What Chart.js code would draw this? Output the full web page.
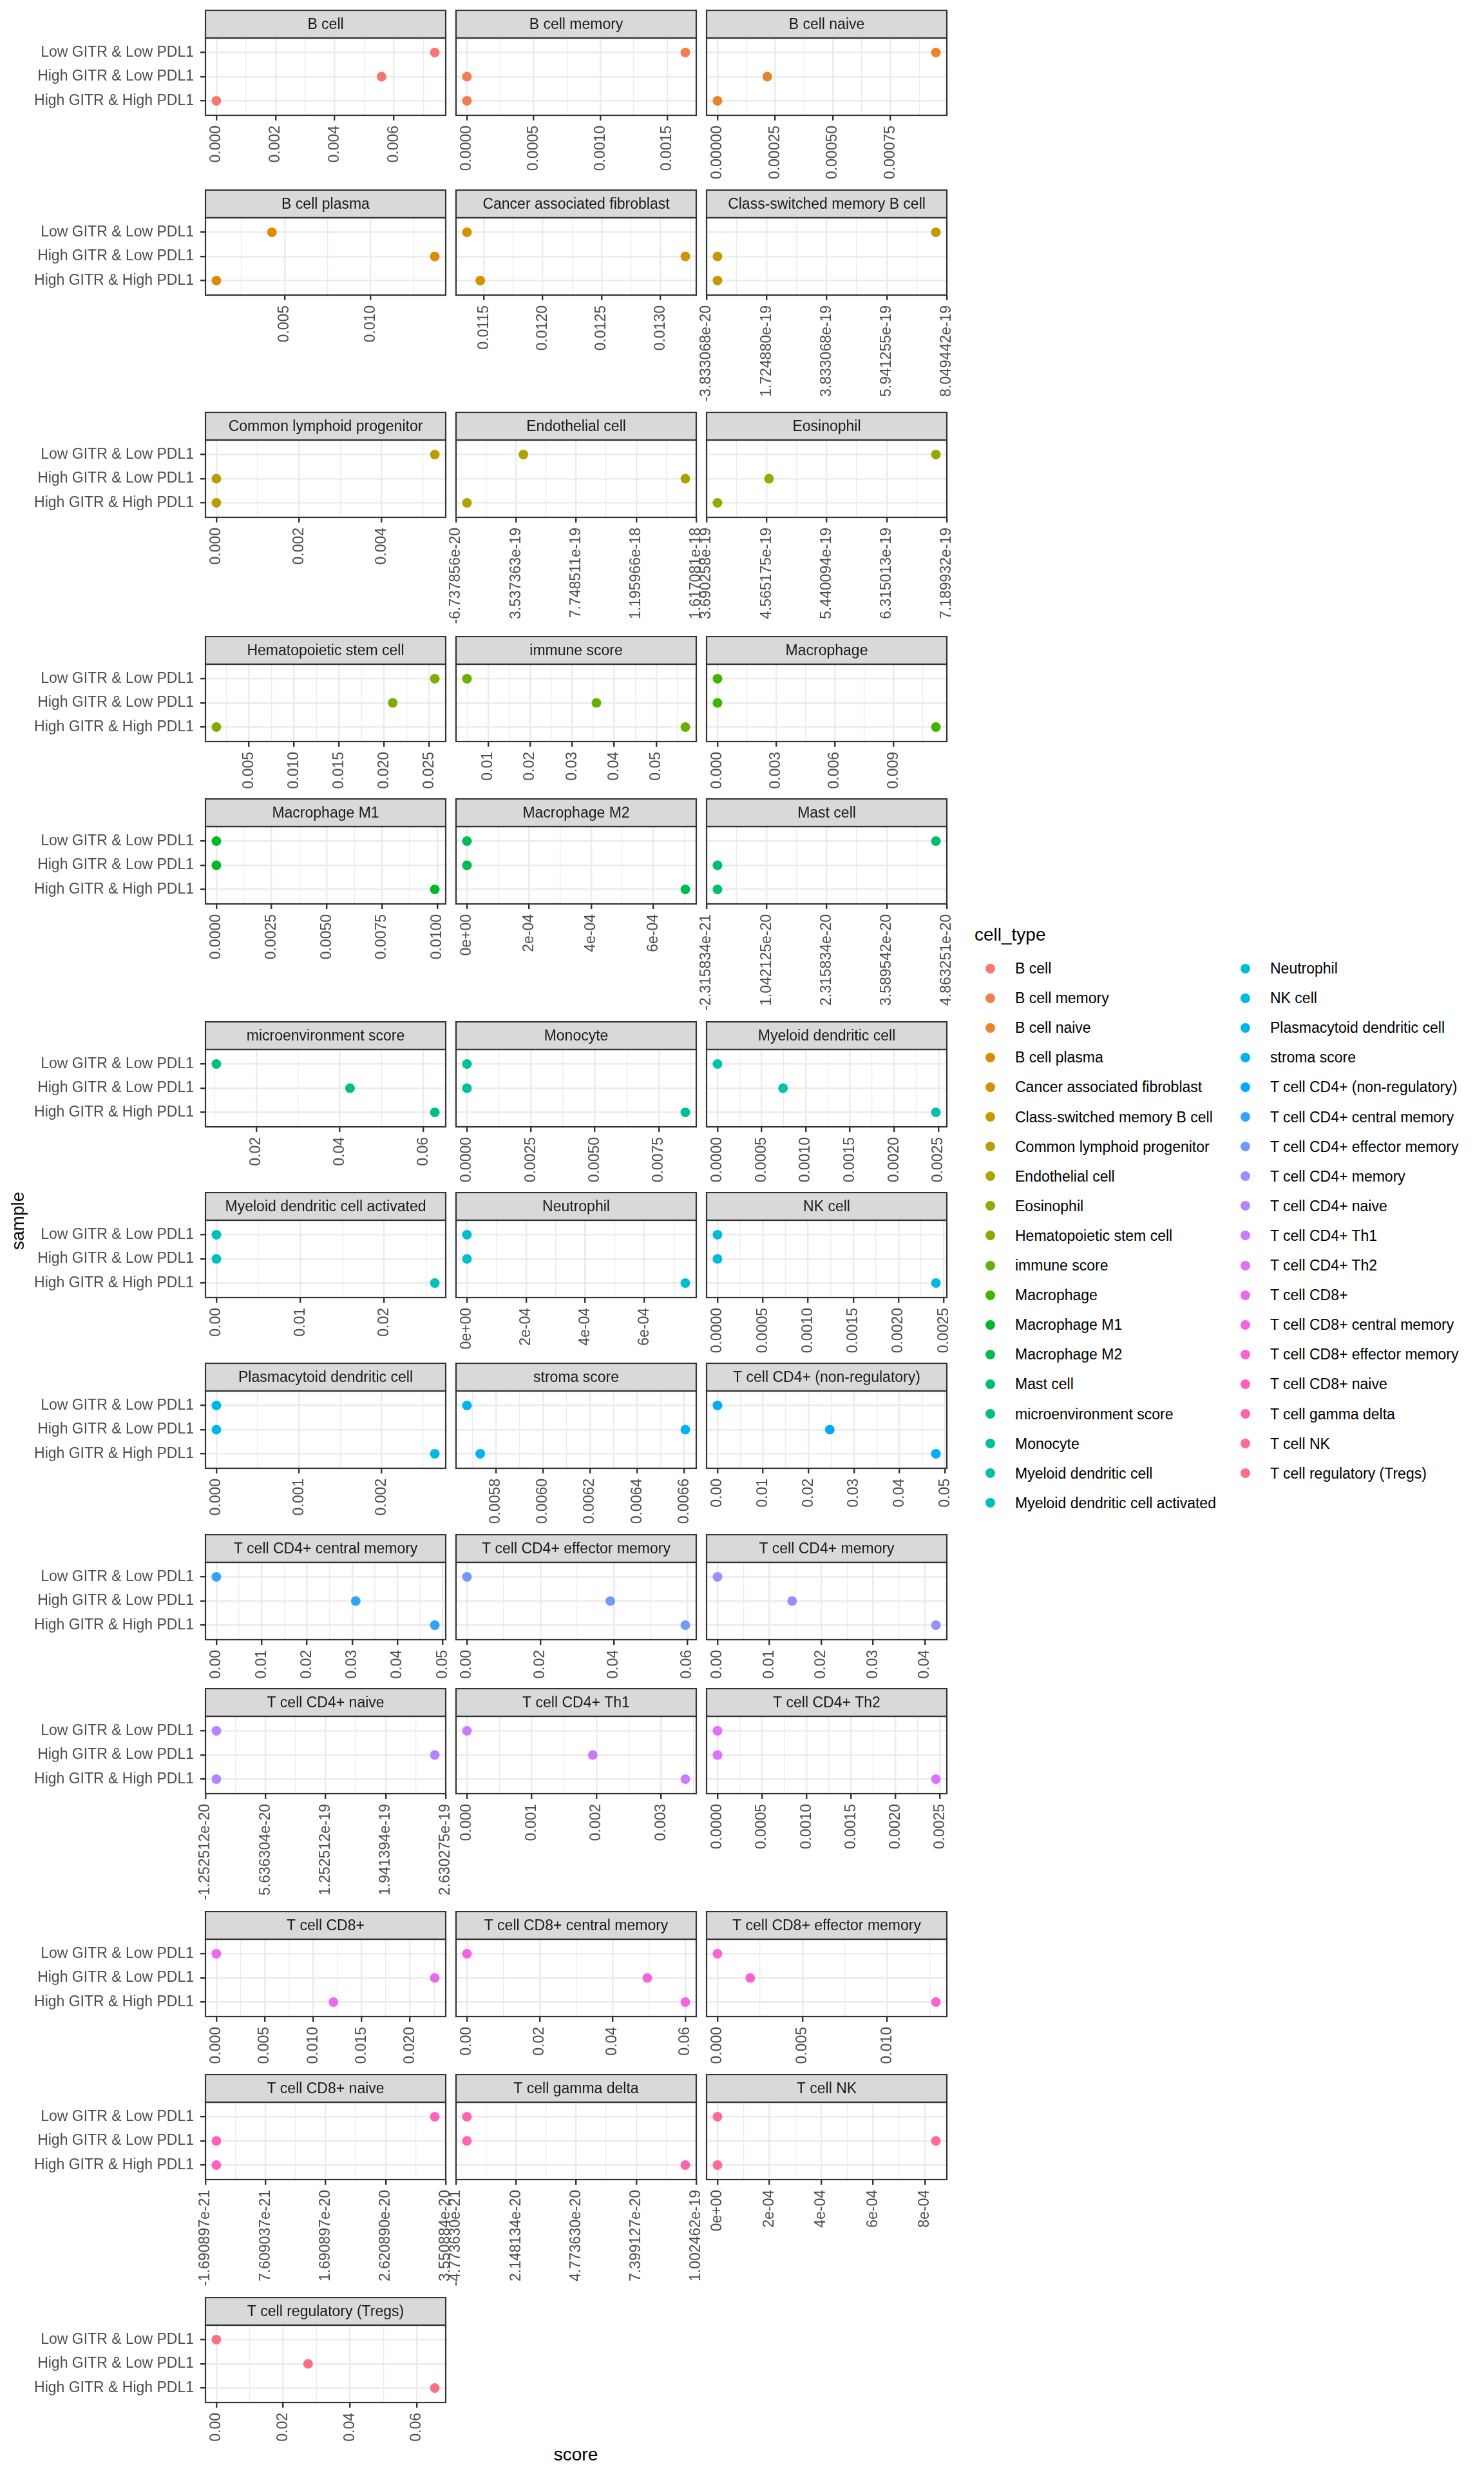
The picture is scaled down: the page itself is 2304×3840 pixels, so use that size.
<!DOCTYPE html>
<html><head><meta charset="utf-8">
<script src="https://cdn.jsdelivr.net/npm/chart.js@4.4.1/dist/chart.umd.min.js"></script>
<style>
html,body{margin:0;padding:0;background:#fff;}
body{width:2304px;height:3840px;position:relative;overflow:hidden;font-family:'Liberation Sans',Arial,sans-serif;}
canvas{position:absolute;}
.t{position:absolute;white-space:nowrap;color:#000;}
.dot{position:absolute;width:15px;height:15px;border-radius:50%;}
</style></head><body>
<script>
// ---------------- DATA ----------------
const cellTypes = ["B cell","B cell memory","B cell naive","B cell plasma","Cancer associated fibroblast","Class-switched memory B cell","Common lymphoid progenitor","Endothelial cell","Eosinophil","Hematopoietic stem cell","immune score","Macrophage","Macrophage M1","Macrophage M2","Mast cell","microenvironment score","Monocyte","Myeloid dendritic cell","Myeloid dendritic cell activated","Neutrophil","NK cell","Plasmacytoid dendritic cell","stroma score","T cell CD4+ (non-regulatory)","T cell CD4+ central memory","T cell CD4+ effector memory","T cell CD4+ memory","T cell CD4+ naive","T cell CD4+ Th1","T cell CD4+ Th2","T cell CD8+","T cell CD8+ central memory","T cell CD8+ effector memory","T cell CD8+ naive","T cell gamma delta","T cell NK","T cell regulatory (Tregs)"];

// y positions 1..3 from bottom to top
const samples = ["High GITR & High PDL1","High GITR & Low PDL1","Low GITR & Low PDL1"];

const scoreLowLow = [0.00739, 0.001636, 0.000947, 0.00427, 0.011356, 7.666137e-19, 0.005285, 4.05e-19, 7.030856e-19, 0.0256, 0.00496, 0, 0, 0, 4.631667e-20, 0.01047, 0, 0, 0, 0, 0, 0, 0.0056765, 0, 0, 0, 0, 0, 0, 0, 0, 0, 0, 3.381794e-20, 0, 0, 0];
const scoreHighLow = [0.00559, 0, 0.000216, 0.01371, 0.013211, 0, 0, 1.540515e-18, 4.60e-19, 0.020936, 0.03576, 0, 0, 0, 0, 0.04245, 0, 0.000742, 0, 0, 0, 0, 0.006605, 0.02467, 0.0308, 0.03908, 0.01439, 2.505024e-19, 0.001944, 0, 0.022555, 0.04954, 0.001929, 0, 0, 0.000842, 0.02746];
const scoreHighHigh = [0, 0, 0, 0.00105, 0.011469, 0, 0, 9.19e-21, 3.849334e-19, 0.001388, 0.05691, 0.011169, 0.009891, 0.000703, 0, 0.06274, 0.008538, 0.002473, 0.026043, 0.000739, 0.002413, 0.002642, 0.005733, 0.048, 0.04827, 0.05952, 0.04211, 0, 0.003374, 0.002452, 0.012087, 0.06, 0.012857, 0, 9.54726e-20, 0, 0.0654];

const xTickLabels = [
  ["0.000","0.002","0.004","0.006"],
  ["0.0000","0.0005","0.0010","0.0015"],
  ["0.00000","0.00025","0.00050","0.00075"],
  ["0.005","0.010"],
  ["0.0115","0.0120","0.0125","0.0130"],
  ["-3.833068e-20","1.724880e-19","3.833068e-19","5.941255e-19","8.049442e-19"],
  ["0.000","0.002","0.004"],
  ["-6.737856e-20","3.537363e-19","7.748511e-19","1.195966e-18","1.617081e-18"],
  ["3.690258e-19","4.565175e-19","5.440094e-19","6.315013e-19","7.189932e-19"],
  ["0.005","0.010","0.015","0.020","0.025"],
  ["0.01","0.02","0.03","0.04","0.05"],
  ["0.000","0.003","0.006","0.009"],
  ["0.0000","0.0025","0.0050","0.0075","0.0100"],
  ["0e+00","2e-04","4e-04","6e-04"],
  ["-2.315834e-21","1.042125e-20","2.315834e-20","3.589542e-20","4.863251e-20"],
  ["0.02","0.04","0.06"],
  ["0.0000","0.0025","0.0050","0.0075"],
  ["0.0000","0.0005","0.0010","0.0015","0.0020","0.0025"],
  ["0.00","0.01","0.02"],
  ["0e+00","2e-04","4e-04","6e-04"],
  ["0.0000","0.0005","0.0010","0.0015","0.0020","0.0025"],
  ["0.000","0.001","0.002"],
  ["0.0058","0.0060","0.0062","0.0064","0.0066"],
  ["0.00","0.01","0.02","0.03","0.04","0.05"],
  ["0.00","0.01","0.02","0.03","0.04","0.05"],
  ["0.00","0.02","0.04","0.06"],
  ["0.00","0.01","0.02","0.03","0.04"],
  ["-1.252512e-20","5.636304e-20","1.252512e-19","1.941394e-19","2.630275e-19"],
  ["0.000","0.001","0.002","0.003"],
  ["0.0000","0.0005","0.0010","0.0015","0.0020","0.0025"],
  ["0.000","0.005","0.010","0.015","0.020"],
  ["0.00","0.02","0.04","0.06"],
  ["0.000","0.005","0.010"],
  ["-1.690897e-21","7.609037e-21","1.690897e-20","2.620890e-20","3.550884e-20"],
  ["-4.773630e-21","2.148134e-20","4.773630e-20","7.399127e-20","1.002462e-19"],
  ["0e+00","2e-04","4e-04","6e-04","8e-04"],
  ["0.00","0.02","0.04","0.06"]
];

// ---------------- LAYOUT / STYLE ----------------
const ROW_TOP = [15, 294, 639, 987, 1239, 1585, 1850, 2115, 2381, 2620, 2966, 3219, 3565];
const COL_LEFT = [319, 708, 1097];
const PANEL_W = 373, STRIP_H = 44, PANEL_H = 120, AXIS_H = 200, MARGIN = 16;
const FONT = "'Liberation Sans', Arial, sans-serif";
const SMALL = 23, BIG = 28;

// ggplot2 default hue palette (hcl, c=100, l=65)
function hcl2hex(h, c, l) {
  const WU = 0.1978398, WV = 0.4683363;
  const hr = h * Math.PI / 180;
  const U = c * Math.cos(hr), V = c * Math.sin(hr);
  const Y = (l > 7.999592) ? Math.pow((l + 16) / 116, 3) : l / 903.3;
  const u = U / (13 * l) + WU, v = V / (13 * l) + WV;
  const X = 9.0 * Y * u / (4 * v);
  const Z = -X / 3 - 5 * Y + 3 * Y / v;
  const g = t => t > 0.00304 ? 1.055 * Math.pow(t, 1 / 2.4) - 0.055 : 12.92 * t;
  const rgb = [g(3.240479 * X - 1.537150 * Y - 0.498535 * Z),
               g(-0.969256 * X + 1.875992 * Y + 0.041556 * Z),
               g(0.055648 * X - 0.204043 * Y + 1.057311 * Z)];
  return '#' + rgb.map(x => Math.round(Math.min(1, Math.max(0, x)) * 255).toString(16).padStart(2, '0')).join('');
}
const palette = cellTypes.map((_, i) => hcl2hex((15 + i * 360 / cellTypes.length) % 360, 100, 65));

Chart.defaults.font.family = FONT;

const stripPlugin = {
  id: 'strip',
  afterDraw(chart, args, opts) {
    const {ctx, chartArea: a} = chart;
    ctx.save();
    ctx.fillStyle = '#D9D9D9';
    ctx.fillRect(a.left, 1, a.right - a.left, a.top - 1);
    ctx.lineWidth = 2.2; ctx.strokeStyle = '#333333';
    ctx.strokeRect(a.left, 1, a.right - a.left, a.top - 1);
    ctx.strokeRect(a.left, a.top, a.right - a.left, a.bottom - a.top);
    ctx.fillStyle = '#1A1A1A';
    ctx.font = SMALL + 'px ' + FONT;
    ctx.textAlign = 'center'; ctx.textBaseline = 'middle';
    ctx.fillText(opts.text, (a.left + a.right) / 2, (1 + a.top) / 2 + 1);
    ctx.restore();
  }
};

cellTypes.forEach((name, i) => {
  const r = Math.floor(i / 3), c = i % 3;
  const padL = c === 0 ? 0 : MARGIN;
  const yW = c === 0 ? COL_LEFT[0] : 0;
  const left = c === 0 ? 0 : COL_LEFT[c] - MARGIN;
  const canvas = document.createElement('canvas');
  canvas.width = padL + yW + PANEL_W + MARGIN;
  canvas.height = STRIP_H + PANEL_H + AXIS_H;
  canvas.style.left = left + 'px';
  canvas.style.top = ROW_TOP[r] + 'px';
  document.body.appendChild(canvas);

  const vals = [scoreHighHigh[i], scoreHighLow[i], scoreLowLow[i]];
  const lo = Math.min(...vals), hi = Math.max(...vals), span = hi - lo;
  const xmin = lo - 0.05 * span, xmax = hi + 0.05 * span;
  const majors = xTickLabels[i].map(s => ({value: parseFloat(s), lbl: s}));
  const step = majors[1].value - majors[0].value;
  const minors = [];
  for (let k = -1; k < majors.length; k++) {
    const v = majors[0].value + (k + 0.5) * step;
    if (v >= xmin && v <= xmax) minors.push({value: v, minor: true, lbl: ''});
  }
  const xticks = majors.concat(minors).sort((a, b) => a.value - b.value);

  new Chart(canvas, {
    type: 'scatter',
    data: {datasets: [{
      data: samples.map((s, j) => ({x: vals[j], y: j + 1})),
      backgroundColor: palette[i], borderWidth: 0,
      pointRadius: 7.5, pointHoverRadius: 7.5
    }]},
    options: {
      responsive: false, animation: false, devicePixelRatio: 1, events: [],
      layout: {padding: {top: STRIP_H, left: padL, right: MARGIN, bottom: 0}},
      plugins: {legend: {display: false}, tooltip: {enabled: false}, strip: {text: name}},
      scales: {
        x: {
          type: 'linear', position: 'bottom', min: xmin, max: xmax,
          afterBuildTicks: s => { s.ticks = xticks.map(t => Object.assign({}, t)); },
          afterFit: s => { s.height = AXIS_H; s.paddingLeft = 0; s.paddingRight = 0; },
          ticks: {autoSkip: false, minRotation: 90, maxRotation: 90, padding: 8, color: '#4D4D4D',
                  font: {size: SMALL}, callback: (v, idx, arr) => (arr[idx] && arr[idx].lbl) || ''},
          grid: {color: '#EBEBEB', lineWidth: ctx => (ctx.tick && ctx.tick.minor) ? 1.3 : 2.4,
                 drawTicks: true, tickLength: 8,
                 tickColor: ctx => (ctx.tick && ctx.tick.minor) ? 'rgba(0,0,0,0)' : '#333333', tickWidth: 2.4},
          border: {display: false}
        },
        y: {
          type: 'linear', min: 0.4, max: 3.6,
          afterBuildTicks: s => { s.ticks = samples.map((_, j) => ({value: j + 1})); },
          afterFit: s => { s.width = yW; s.paddingTop = 0; s.paddingBottom = 0; },
          ticks: {display: c === 0, padding: 10, color: '#4D4D4D', font: {size: SMALL},
                  callback: v => samples[Math.round(v) - 1]},
          grid: {color: '#EBEBEB', lineWidth: 2.4, drawTicks: c === 0, tickLength: 8,
                 tickColor: '#333333', tickWidth: 2.4},
          border: {display: false}
        }
      }
    },
    plugins: [stripPlugin]
  });
});

// ---------------- LEGEND & AXIS TITLES ----------------
function addText(txt, x, y, size, extra) {
  const d = document.createElement('div');
  d.className = 't';
  d.textContent = txt;
  d.style.left = x + 'px'; d.style.top = y + 'px';
  d.style.fontSize = size + 'px';
  d.style.lineHeight = Math.round(size * 1.2) + 'px';
  if (extra) Object.assign(d.style, extra);
  document.body.appendChild(d);
  return d;
}
addText('cell_type', 1513, 1451 - 17, BIG);
const LEG_Y0 = 1503, LEG_DY = 46.1, LEG_ROWS = 19;
const LEG_DOT_X = [1537, 1933], LEG_TXT_X = [1576, 1972];
cellTypes.forEach((name, i) => {
  const col = i < LEG_ROWS ? 0 : 1;
  const row = col ? i - LEG_ROWS : i;
  const y = LEG_Y0 + row * LEG_DY;
  const dot = document.createElement('div');
  dot.className = 'dot';
  dot.style.left = (LEG_DOT_X[col] - 7.5) + 'px';
  dot.style.top = (y - 7.5) + 'px';
  dot.style.background = palette[i];
  document.body.appendChild(dot);
  addText(name, LEG_TXT_X[col], y - 14, SMALL);
});
addText('sample', 28, 1895, BIG, {transform: 'translate(-50%,-50%) rotate(-90deg)'});
addText('score', 894, 3810, BIG, {transform: 'translate(-50%,-50%)'});
</script>
</body></html>
